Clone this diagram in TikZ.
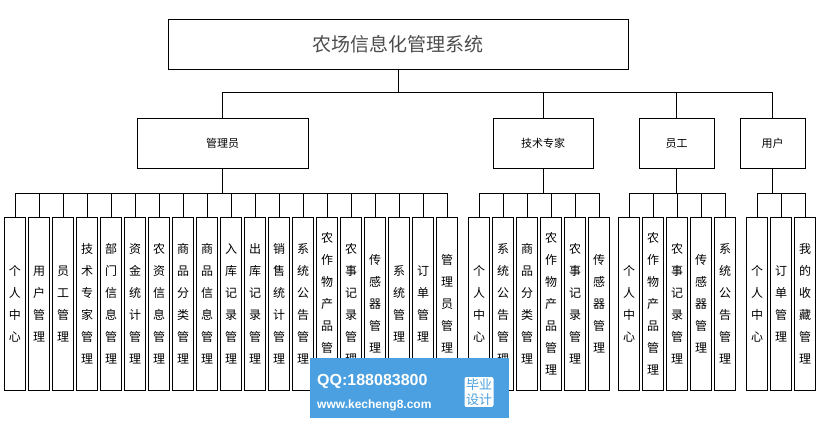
\documentclass[tikz,border=0pt]{standalone}
\usepackage{fontspec}
\setmainfont{Noto Sans CJK SC}
\newfontfamily\latinsans{Liberation Sans}
\begin{document}
\begin{tikzpicture}[x=1pt,y=-1pt,
  box/.style={draw,line width=0.8pt,inner sep=0pt},
  leaf/.style={box,minimum width=21pt,minimum height=173pt,font=\fontsize{12}{22}\selectfont,align=center,anchor=north},
  mid/.style={box,minimum height=50pt,font=\fontsize{11}{13}\selectfont,anchor=north},
  conn/.style={line width=0.8pt}]
\useasboundingbox (0,0) rectangle (819,424);
\node[box,minimum width=460pt,minimum height=50pt,anchor=north west,font=\fontsize{19}{22}\selectfont,text=black!70] (top) at (168,19) {农场信息化管理系统};
\node[mid,minimum width=171pt] (g1) at (222.5,118) {管理员};
\node[mid,minimum width=100pt] (g2) at (543,118) {技术专家};
\node[mid,minimum width=75pt] (g3) at (676.5,118) {员工};
\node[mid,minimum width=65pt] (g4) at (772.5,118) {用户};
\coordinate (tb) at (top.south |- 0,92);
\draw[conn] (top.south) -- (tb);
\draw[conn] (g1.north |- tb) -- (g4.north |- tb);
\foreach \g in {g1,g2,g3,g4} \draw[conn] (\g.north |- tb) -- (\g.north);
% leaves
\def\leafgroup#1#2#3{%
  \foreach \t [count=\i from 0] in {#3} {
    \node[leaf] (#1l\i) at (#2+24*\i,217) {\t};
    \draw[conn] (#1l\i.north) -- ++(0,-24);
  }
}
\leafgroup{a}{15}{个\\人\\中\\心,用\\户\\管\\理,员\\工\\管\\理,技\\术\\专\\家\\管\\理,部\\门\\信\\息\\管\\理,资\\金\\统\\计\\管\\理,农\\资\\信\\息\\管\\理,商\\品\\分\\类\\管\\理,商\\品\\信\\息\\管\\理,入\\库\\记\\录\\管\\理,出\\库\\记\\录\\管\\理,销\\售\\统\\计\\管\\理,系\\统\\公\\告\\管\\理,农\\作\\物\\产\\品\\管\\理,农\\事\\记\\录\\管\\理,传\\感\\器\\管\\理,系\\统\\管\\理,订\\单\\管\\理,管\\理\\员\\管\\理}
\leafgroup{b}{479}{个\\人\\中\\心,系\\统\\公\\告\\管\\理,商\\品\\分\\类\\管\\理,农\\作\\物\\产\\品\\管\\理,农\\事\\记\\录\\管\\理,传\\感\\器\\管\\理}
\leafgroup{c}{629}{个\\人\\中\\心,农\\作\\物\\产\\品\\管\\理,农\\事\\记\\录\\管\\理,传\\感\\器\\管\\理,系\\统\\公\\告\\管\\理}
\leafgroup{d}{757}{个\\人\\中\\心,订\\单\\管\\理,我\\的\\收\\藏\\管\\理}
\draw[conn] (al0.north) ++(0,-24) -- ([yshift=24pt]al18.north);
\draw[conn] (bl0.north) ++(0,-24) -- ([yshift=24pt]bl5.north);
\draw[conn] (cl0.north) ++(0,-24) -- ([yshift=24pt]cl4.north);
\draw[conn] (dl0.north) ++(0,-24) -- ([yshift=24pt]dl2.north);
\draw[conn] (g1.south) -- (g1.south |- 0,193);
\draw[conn] (g2.south) -- (g2.south |- 0,193);
\draw[conn] (g3.south) -- (g3.south |- 0,193);
\draw[conn] (g4.south) -- (g4.south |- 0,193);
% watermark
\fill[fill={rgb,255:red,74;green,160;blue,224}] (310,358) rectangle (509,418);
\node[text=white,font=\latinsans\bfseries\fontsize{16}{18}\selectfont,anchor=west,inner sep=0pt] (wq) at (317,381) {QQ:188083800};
\node[text=white,font=\latinsans\bfseries\fontsize{12}{14}\selectfont,anchor=west,inner sep=0pt] (ww) at (317,405) {www.kecheng8.com};
\node[fill=white,rounded corners=2pt,text={rgb,255:red,74;green,160;blue,224},font=\fontsize{13}{15}\selectfont,align=center,inner sep=1.5pt] (wb) at (479,392) {毕业\\设计};
\end{tikzpicture}
\end{document}
